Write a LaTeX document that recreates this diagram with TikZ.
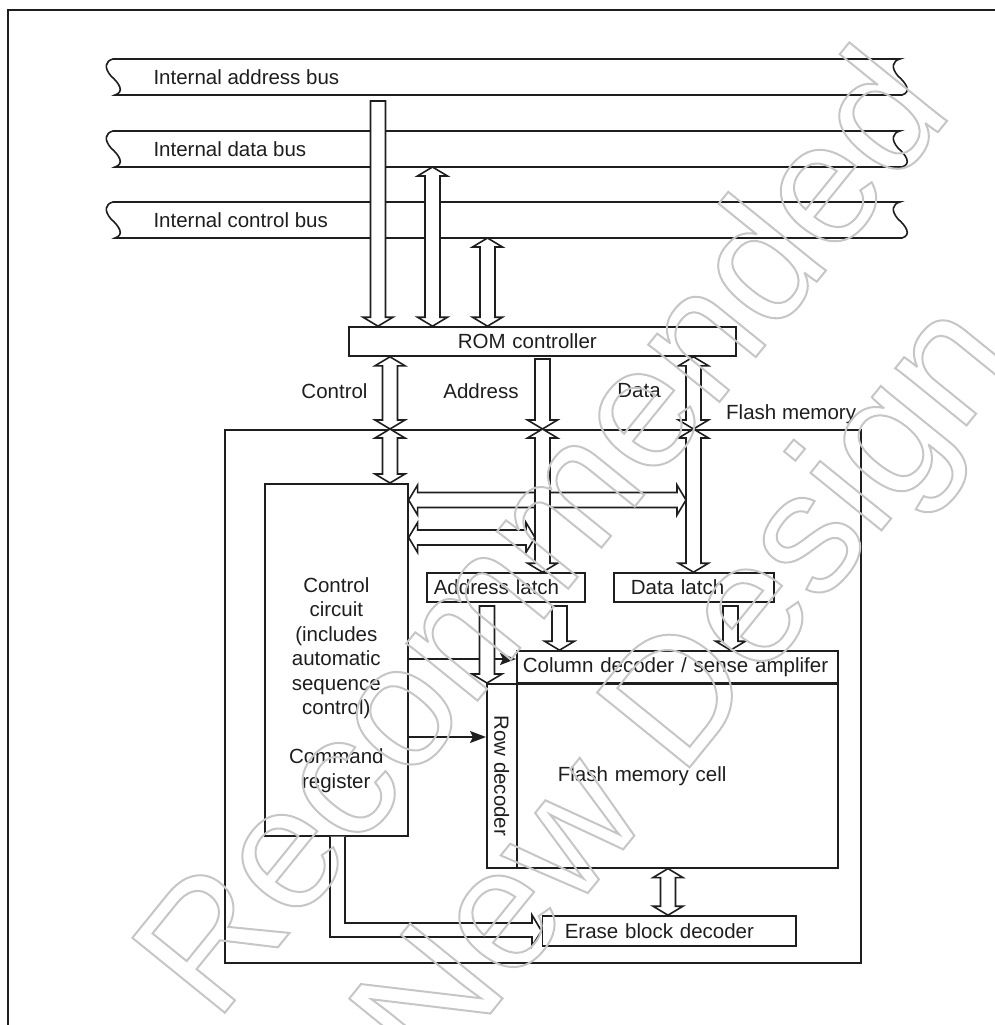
\documentclass[tikz,border=0pt]{standalone}
\usepackage{fontspec}
\setmainfont{Liberation Sans}
\usetikzlibrary{calc,arrows.meta}
\definecolor{ink}{RGB}{30,30,30}
\definecolor{wmgray}{RGB}{198,198,198}

% wide bus arrows (tail -> tip, tip <-> tip)
\newcommand{\fatsingle}[2]{%
  \coordinate (fb) at ($(#2)!9pt!(#1)$);
  \draw[fat] ($(#1)!7.5pt!90:(#2)$) -- ($(fb)!7.5pt!-90:(#1)$) -- ($(fb)!15pt!-90:(#1)$) -- (#2)
    -- ($(fb)!15pt!90:(#1)$) -- ($(fb)!7.5pt!90:(#1)$) -- ($(#1)!7.5pt!-90:(#2)$) -- cycle;}
\newcommand{\fatdouble}[2]{%
  \coordinate (fa) at ($(#1)!9pt!(#2)$);
  \coordinate (fb) at ($(#2)!9pt!(#1)$);
  \draw[fat] (#1) -- ($(fa)!15pt!90:(#2)$) -- ($(fa)!7.5pt!90:(#2)$) -- ($(fb)!7.5pt!-90:(#1)$)
    -- ($(fb)!15pt!-90:(#1)$) -- (#2) -- ($(fb)!15pt!90:(#1)$) -- ($(fb)!7.5pt!90:(#1)$)
    -- ($(fa)!7.5pt!-90:(#2)$) -- ($(fa)!15pt!-90:(#2)$) -- cycle;}

\begin{document}
\begin{tikzpicture}[x=1pt,y=-1pt,
    every node/.style={font=\fontsize{20.5}{24.5}\selectfont, text=ink},
    box/.style={draw=ink, line width=1.6pt, inner ysep=0pt},
    fat/.style={draw=ink, line width=1.6pt, fill=white, line join=miter},
    sigline/.style={draw=ink, line width=1.6pt, -{Stealth[length=16pt,width=12pt,inset=3pt]}},
    bus/.style={draw=ink, line width=1.6pt},
    wm/.style={font=\fontsize{173}{173}\selectfont, text=wmgray, inner sep=0pt, rotate=51}]

    \useasboundingbox (0,0) rectangle (995,1025);
    \clip (0,0) rectangle (995,1025);

    % frame
    \draw[ink, line width=1.8pt] (8,1040) -- (8,10) -- (1010,10);

    % internal buses
    \foreach \y in {59,131,202}
        \draw[bus] (113,\y) -- (900,\y) .. controls (892,\y+2) and (891,\y+9) .. (898,\y+17)
            .. controls (906,\y+24) and (912,\y+33) .. (902,\y+36) -- (115,\y+36)
            .. controls (125,\y+33) and (119,\y+24) .. (111,\y+17)
            .. controls (104,\y+9) and (105,\y+2) .. cycle;
    \node[anchor=west] (adrbus) at (150,77) {Internal address bus};
    \node[anchor=west] (datbus) at (150,149) {Internal data bus};
    \node[anchor=west] (ctlbus) at (150,220) {Internal control bus};

    % blocks
    \node[box, anchor=west, inner xsep=109pt, text width=169pt, align=left, minimum height=29pt] (rom) at (348,341.5) {ROM controller};
    \node[box, anchor=north west, minimum width=636pt, minimum height=533pt] (flash) at (224,429) {};
    \node[anchor=base east] (flashlbl) at ($(flash.north east)+(-2,-10)$) {Flash memory};
    \node[box, anchor=north west, minimum width=143pt, minimum height=352pt] (ctrl) at (264,483) {};
    \node[align=center] (ctrltxt) at ($(ctrl.center)+(0,25)$) {Control\\circuit\\(includes\\automatic\\sequence\\control)\\[24.5pt]Command\\register};
    \node[box, anchor=west, inner xsep=7pt, text width=144pt, align=left, minimum height=29pt] (alatch) at (426,587.5) {Address latch};
    \node[box, anchor=west, inner xsep=17pt, text width=126pt, align=left, minimum height=29pt] (dlatch) at (613,587.5) {Data latch};
    \node[box, anchor=west, inner xsep=6pt, text width=309pt, align=left, minimum height=32pt] (coldec) at (516,667) {Column decoder / sense amplifer};
    \node[box, anchor=north west, inner xsep=41pt, text width=239pt, align=left, minimum height=184pt] (cell) at (516,683) {Flash memory cell};
    \node[box, anchor=north west, minimum width=30pt, minimum height=184pt, inner xsep=0pt] (rowdec) at (486,683) {\rotatebox{-90}{Row decoder}};
    \node[box, anchor=west, inner xsep=22.5pt, text width=208.5pt, align=left, minimum height=30pt] (erase) at (541.5,931) {Erase block decoder};

    % column labels
    \node (ctllbl) at (334.5,391) {Control};
    \node (adrlbl) at (481,391) {Address};
    \node (datlbl) at (639,391) {Data};

    % bus -> ROM controller
    \fatsingle{378,101}{378,0 |- rom.north}
    \fatdouble{432.5,167}{432.5,0 |- rom.north}
    \fatdouble{487.5,238}{487.5,0 |- rom.north}

    % ROM controller -> flash memory
    \fatdouble{390,0 |- rom.south}{390,0 |- flash.north}
    \fatsingle{542.5,359}{542.5,0 |- flash.north}
    \fatdouble{693.5,0 |- rom.south}{693.5,0 |- flash.north}

    % inside flash memory
    \fatdouble{ctrl.east |- 0,500}{686,500}
    \fatdouble{ctrl.east |- 0,537.5}{535,537.5}
    \fatdouble{390,0 |- flash.north}{390,0 |- ctrl.north}
    \fatdouble{542.5,0 |- flash.north}{542.5,0 |- alatch.north}
    \fatdouble{693.5,0 |- flash.north}{693.5,0 |- dlatch.north}

    \draw[sigline] (ctrl.east |- 0,659) -- (coldec.west |- 0,659);
    \draw[sigline] (ctrl.east |- 0,737) -- (rowdec.west |- 0,737);

    \fatsingle{487,606}{487,0 |- rowdec.north}
    \fatsingle{559.5,606}{559.5,0 |- coldec.north}
    \fatsingle{730.5,606}{730.5,0 |- coldec.north}
    \fatdouble{668,0 |- cell.south}{668,0 |- erase.north}

    \draw[fat] (330,0 |- ctrl.south) -- (330,937) -- (532,937) -- (532,946) -- (erase.west)
        -- (532,915) -- (532,923) -- (345,923) -- (345,0 |- ctrl.south);

    % watermark
    \node[wm] (wmA) at (537,529) {\special{pdf:literal direct 1 Tr 2 w}Recommended\special{pdf:literal direct 0 Tr}};
    \node[wm] (wmB) at (691.5,694) {\special{pdf:literal direct 1 Tr 2 w}New Design\special{pdf:literal direct 0 Tr}};

\end{tikzpicture}
\end{document}
